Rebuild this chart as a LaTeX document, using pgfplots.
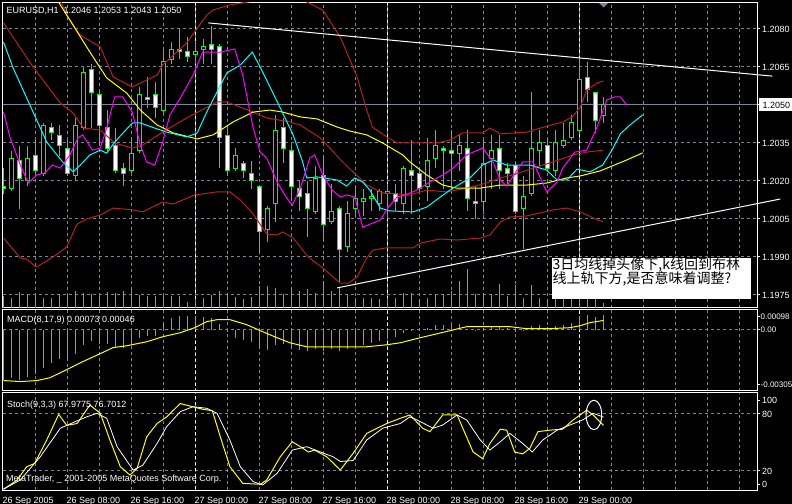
\documentclass[border=0pt]{standalone}
\usepackage{pgfplots}
\pgfplotsset{compat=1.18}
\usepackage{pgfplotstable}
\usepackage{fontspec}
\setmainfont{Liberation Sans}
\newfontfamily\cjk{Noto Sans CJK SC}
\definecolor{mtgrid}{RGB}{119,136,153}
\definecolor{mtred}{RGB}{178,34,34}
\definecolor{mtgreen}{RGB}{0,255,0}
\definecolor{mthist}{RGB}{150,150,150}
\definecolor{mtmag}{RGB}{255,0,255}
\definecolor{mtcyan}{RGB}{0,255,255}
\definecolor{mtyel}{RGB}{255,255,0}
\newcommand{\mtf}{\fontsize{9bp}{10bp}\selectfont}

% hourly EURUSD bars, k = hours since 26 Sep 2005 00:00
\pgfplotstableread{
k O H L C
0 1.2018 1.2025 1.2015 1.2017
1 1.2017 1.2032 1.2016 1.2029
2 1.2028 1.2034 1.2009 1.2021
3 1.2020 1.2034 1.2018 1.2029
4 1.2030 1.2036 1.2023 1.2024
5 1.2023 1.2043 1.2022 1.2042
6 1.2041 1.2043 1.2036 1.2039
7 1.2038 1.2042 1.2030 1.2034
8 1.2033 1.2036 1.2022 1.2023
9 1.2022 1.2045 1.2020 1.2042
10 1.2041 1.2065 1.2040 1.2063
11 1.2064 1.2066 1.2041 1.2055
12 1.2054 1.2056 1.2034 1.2042
13 1.2041 1.2048 1.2032 1.2033
14 1.2034 1.2041 1.2023 1.2024
15 1.2025 1.2027 1.2018 1.2023
16 1.2024 1.2037 1.2023 1.2031
17 1.2032 1.2057 1.2031 1.2054
18 1.2053 1.2061 1.2049 1.2052
19 1.2054 1.2059 1.2045 1.2049
20 1.2048 1.2072 1.2047 1.2067
21 1.2068 1.2075 1.2066 1.2072
22 1.2072 1.2080 1.2068 1.2071
23 1.2071 1.2077 1.2067 1.2069
24 1.2070 1.2075 1.2066 1.2071
25 1.2072 1.2076 1.2066 1.2073
26 1.2074 1.2081 1.2066 1.2072
27 1.2073 1.2074 1.2025 1.2037
28 1.2038 1.2041 1.2022 1.2024
29 1.2025 1.2033 1.2024 1.2030
30 1.2027 1.2028 1.2021 1.2024
31 1.2023 1.2028 1.2017 1.2020
32 1.2018 1.2018 1.1991 1.2000
33 1.2001 1.2010 1.1996 1.2009
34 1.2011 1.2046 1.2004 1.2040
35 1.2041 1.2045 1.2027 1.2033
36 1.2032 1.2034 1.2012 1.2018
37 1.2017 1.2020 1.2008 1.2014
38 1.2015 1.2020 1.1998 1.2009
39 1.2008 1.2026 1.2007 1.2021
40 1.2022 1.2030 1.1997 1.2003
41 1.2004 1.2019 1.2003 1.2008
42 1.2009 1.2010 1.1980 1.1993
43 1.1994 1.2012 1.1992 1.2007
44 1.2009 1.2018 1.2006 1.2013
45 1.2012 1.2017 1.2006 1.2013
46 1.2013 1.2017 1.2008 1.2014
47 1.2011 1.2017 1.2008 1.2016
48 1.2015 1.2019 1.2005 1.2016
49 1.2015 1.2019 1.2008 1.2012
50 1.2011 1.2026 1.2007 1.2025
51 1.2024 1.2036 1.2007 1.2022
52 1.2023 1.2025 1.2016 1.2017
53 1.2018 1.2037 1.2012 1.2028
54 1.2029 1.2040 1.2025 1.2034
55 1.2033 1.2034 1.2017 1.2032
56 1.2032 1.2040 1.2017 1.2031
57 1.2031 1.2038 1.2024 1.2034
58 1.2033 1.2040 1.2008 1.2013
59 1.2012 1.2018 1.2005 1.2011
60 1.2012 1.2036 1.2007 1.2027
61 1.2029 1.2038 1.2017 1.2032
62 1.2033 1.2038 1.2017 1.2024
63 1.2025 1.2027 1.2018 1.2023
64 1.2026 1.2027 1.2007 1.2008
65 1.2009 1.2022 1.1993 1.2014
66 1.2015 1.2055 1.2014 1.2033
67 1.2032 1.2040 1.2026 1.2035
68 1.2034 1.2037 1.2024 1.2025
69 1.2024 1.2040 1.2022 1.2035
70 1.2034 1.2043 1.2033 1.2036
71 1.2037 1.2046 1.2036 1.2043
72 1.2040 1.2069 1.2039 1.2060
73 1.2061 1.2067 1.2051 1.2056
74 1.2055 1.2055 1.2039 1.2044
75 1.2046 1.2053 1.2043 1.2050
}\candles

\pgfplotstableread{
k v
0 12
1 10
2 16
3 14
4 12
5 10
6 10
7 14
8 13
9 17
10 15
11 14
12 12
13 16
14 15
15 17
16 19
17 13
18 12
19 12
20 12
21 12
22 12
23 6
24 6
25 10
26 13
27 17
28 14
29 11
30 9
31 11
32 22
33 22
34 20
35 14
36 20
37 17
38 19
39 15
40 27
41 17
42 20
43 14
44 10
45 10
46 10
47 9
48 10
49 10
50 15
51 15
52 9
53 10
54 14
55 14
56 17
57 27
58 39
59 14
60 15
61 14
62 24
63 12
64 23
65 10
66 23
67 10
68 9
69 14
70 12
71 15
72 20
73 16
74 12
75 5
}\volumes

\pgfplotstableread{
k m
0 -0.00249
1 -0.00239
2 -0.00249
3 -0.00234
4 -0.00219
5 -0.00189
6 -0.00164
7 -0.00144
8 -0.00149
9 -0.00119
10 -0.00075
11 -0.00055
12 -0.00070
13 -0.00070
14 -0.00085
15 -0.00089
16 -0.00075
17 -0.00040
18 -0.00030
19 -0.00030
20 0.00040
21 0.00060
22 0.00070
23 0.00070
24 0.00070
25 0.00065
26 0.00060
27 0.00030
28 -0.00010
29 -0.00040
30 -0.00050
31 -0.00060
32 -0.00089
33 -0.00099
34 -0.00075
35 -0.00070
36 -0.00089
37 -0.00099
38 -0.00104
39 -0.00094
40 -0.00104
41 -0.00094
42 -0.00104
43 -0.00094
44 -0.00085
45 -0.00075
46 -0.00065
47 -0.00055
48 -0.00045
49 -0.00035
50 -0.00015
51 -0.00005
52 -0.00005
53 0.00010
54 0.00025
55 0.00025
56 0.00025
57 0.00030
58 0.00005
59 -0.00005
60 0.00010
61 0.00020
62 0.00015
63 0.00010
64 -0.00010
65 -0.00005
66 0.00020
67 0.00025
68 0.00015
69 0.00020
70 0.00025
71 0.00035
72 0.00070
73 0.00075
74 0.00065
75 0.00073
}\macd

\pgfplotsset{
  panel/.style={scale only axis, width=754.5bp, xmin=-0.125, xmax=94.1875,
    axis line style={white, line width=1bp},
    scaled y ticks=false, scaled x ticks=false,
    xtick={4,8,...,92}, xticklabels={}, xtick style={draw=none},
    xmajorgrids, major grid style={mtgrid, line width=1bp, dash pattern=on 3bp off 3bp},
    ytick pos=right, yticklabel pos=right, ytick align=outside, major tick length=3bp,
    ytick style={white, line width=1bp},
    yticklabel style={font=\mtf, text=white, anchor=west, inner sep=0pt, xshift=2bp}},
  over/.style={scale only axis, width=754.5bp, xmin=-0.125, xmax=94.1875, hide axis,
    scaled y ticks=false, scaled x ticks=false},
  mainpos/.style={at={(2.5bp,196bp)}, anchor=south west, height=305bp,
    ymin=1.1969868, ymax=1.2090263},
  sep/.style={white, line width=1bp, dash pattern=on 3bp off 3bp, forget plot},
}

\begin{document}
\begin{tikzpicture}
\useasboundingbox (0,0) rectangle (792bp,504bp);
\fill[black] (0,0) rectangle (792bp,504bp);
\clip (0,0) rectangle (792bp,504bp);

% price panel: frame, grid, bid line, wicks
\begin{axis}[panel, mainpos,
  ytick={1.1975,1.1990,1.2005,1.2020,1.2035,1.2050,1.2065,1.2080},
  yticklabels={1.1975,1.1990,1.2005,1.2020,1.2035,{},1.2065,1.2080},
  ymajorgrids]
\addplot[mtgrid, line width=1bp, forget plot] coordinates {(-0.125,1.2050) (94.1875,1.2050)};
\addplot[sep] coordinates {(24,1.19) (24,1.21)};
\addplot[sep] coordinates {(48,1.19) (48,1.21)};
\addplot[sep] coordinates {(72,1.19) (72,1.21)};
\addplot[mtgreen, only marks, mark size=0pt, mark options={draw=none, fill=none},
  error bars/.cd, y dir=plus, y explicit, error mark=none,
  error bar style={line width=1.1bp, solid, mtgreen}]
  table[x=k, y=L, y error expr=\thisrow{H}-\thisrow{L}] {\candles};
\end{axis}

% volumes
\begin{axis}[over, at={(2.5bp,196bp)}, anchor=south west, height=305bp, ymin=0, ymax=305]
\addplot[ycomb, mtgreen, line width=1.1bp, mark=none] table[x=k, y=v] {\volumes};
\end{axis}

% candle bodies (base 1.19)
\begin{axis}[over, at={(2.5bp,196bp)}, anchor=south west, height=305bp,
  ymin=0.0069868, ymax=0.0190263, ybar stacked, bar width=4bp]
\addplot[draw=none, fill=none] table[x=k, y expr={min(\thisrow{O},\thisrow{C})-1.19}] {\candles};
\addplot[draw=mtgreen, fill=black, line width=1bp] table[x=k, y expr={max(\thisrow{C}-\thisrow{O},0)}] {\candles};
\addplot[draw=mtgreen, fill=white, line width=1bp] table[x=k, y expr={max(\thisrow{O}-\thisrow{C},0)}] {\candles};
\end{axis}

% indicators
\begin{axis}[over, mainpos]
\addplot[mtred, line width=1bp] coordinates {(0,1.2107) (3.9,1.2099) (7.1,1.20914) (7.9,1.20855) (9.6,1.20776) (12.1,1.20729) (13.7,1.20611) (16.1,1.20571) (19.2,1.20618) (19.9,1.20658) (22.9,1.20745) (25.4,1.20855) (26.2,1.20875) (28.3,1.20895) (32.1,1.20915) (34.6,1.2095) (37.4,1.20915) (39.9,1.20875) (42.1,1.20768) (44.2,1.20611) (45.4,1.2048) (46.1,1.20413) (47.9,1.20374) (49.2,1.2035) (54.2,1.2035) (55.8,1.20362) (57.4,1.2039) (59.9,1.2039) (60.8,1.20409) (62.1,1.20386) (65.4,1.20393) (67.1,1.20409) (69.9,1.20433) (71.1,1.20453) (72.1,1.20492) (72.9,1.20559) (74.2,1.20587) (75,1.20595)};
\addplot[mtred, line width=1bp] coordinates {(0,1.20824) (3.7,1.2065) (7.1,1.20508) (8.7,1.20468) (10,1.20409) (12.1,1.20401) (13.9,1.2035) (16.1,1.2033) (17.4,1.20342) (19.9,1.20393) (22.9,1.20449) (26.7,1.20512) (27.9,1.20512) (31.2,1.20472) (32.9,1.20449) (35.8,1.20433) (37.1,1.20421) (39.6,1.2037) (42.4,1.20275) (45.4,1.20184) (47.4,1.20153) (50.8,1.20145) (52.9,1.20164) (55.4,1.20157) (57.9,1.20172) (60.4,1.20192) (62.1,1.20212) (63.7,1.20224) (66.2,1.20251) (68.7,1.20275) (71.2,1.20303) (72.9,1.20314) (75,1.20322)};
\addplot[mtred, line width=1bp] coordinates {(0,1.19975) (2.1,1.19896) (2.9,1.19892) (4.1,1.1986) (6.2,1.199) (7.9,1.1994) (9.2,1.2003) (10.4,1.2005) (12.1,1.20066) (13.7,1.20093) (16.2,1.20086) (17.4,1.20078) (19.9,1.20117) (21.2,1.20109) (23.9,1.20145) (26.7,1.20157) (28.3,1.20157) (29.6,1.20125) (31.2,1.2007) (32.9,1.19991) (34.2,1.19987) (34.9,1.19999) (36.2,1.19975) (38.1,1.199) (39.9,1.19857) (42.1,1.19797) (43.1,1.19797) (44.2,1.19821) (45.4,1.19896) (46.2,1.19928) (47.9,1.19936) (51.2,1.19936) (52.1,1.19955) (54.6,1.19971) (56.7,1.19967) (59.6,1.19975) (60.8,1.19987) (62.1,1.20038) (63.3,1.20058) (65.4,1.20062) (68.7,1.20086) (70.4,1.20093) (72.1,1.20078) (73.7,1.20054) (75,1.20038)};
\addplot[mtyel, line width=1bp] coordinates {(0,1.2125) (7.9,1.20855) (10.8,1.20709) (12.9,1.20607) (15.4,1.20547) (17.1,1.2048) (19.2,1.20421) (21.2,1.2039) (24.2,1.20366) (26.2,1.20382) (28.7,1.20433) (31.2,1.20472) (33.3,1.2048) (34.9,1.20472) (37.1,1.20453) (39.2,1.20445) (41.7,1.20413) (43.3,1.20397) (45.4,1.20382) (47.4,1.2035) (49.9,1.20303) (50.8,1.20275) (52.9,1.20224) (54.9,1.20184) (56.6,1.20172) (59.6,1.20172) (62.1,1.20184) (65.4,1.20184) (67.9,1.20192) (70.4,1.20212) (72.1,1.2022) (74.6,1.2024) (77.9,1.20283) (79.9,1.20311)};
\addplot[mtcyan, line width=1bp] coordinates {(0,1.20749) (1.2,1.20646) (3.7,1.20472) (5.4,1.20354) (7.4,1.20275) (8.7,1.20236) (9.6,1.20263) (10.8,1.20303) (12.1,1.20322) (12.9,1.2031) (13.9,1.20354) (16.1,1.20429) (17.1,1.20429) (18.9,1.20409) (20.4,1.20393) (22.9,1.20374) (24.2,1.20389) (25.4,1.20472) (27.9,1.20626) (29.6,1.20658) (31.1,1.20709) (32.4,1.2063) (34.6,1.20488) (36.2,1.20382) (37.4,1.20275) (37.9,1.20212) (39.2,1.20216) (41.7,1.20204) (42.9,1.2018) (43.9,1.20212) (44.9,1.20196) (45.8,1.20164) (47.1,1.20093) (48.3,1.20082) (51.2,1.20078) (52.9,1.20097) (54.6,1.20137) (55.8,1.20164) (58.3,1.20212) (59.9,1.20263) (61.2,1.20283) (62.9,1.20263) (65.8,1.20263) (67.9,1.20243) (69.2,1.20204) (70.4,1.20204) (71.7,1.20247) (73.3,1.20236) (74.9,1.20263) (76.2,1.2033) (77.1,1.20386) (78.3,1.20421) (79.9,1.20461)};
\addplot[mtmag, line width=1bp] coordinates {(0,1.20472) (0.8,1.20374) (2.1,1.20263) (3.1,1.20192) (4.2,1.20224) (5.2,1.20232) (6.1,1.20263) (7.1,1.20251) (8.3,1.20303) (9.3,1.2037) (9.9,1.20382) (11.1,1.20322) (12.1,1.2033) (12.9,1.20409) (13.9,1.20532) (14.9,1.20532) (16.1,1.20472) (17.1,1.20342) (17.9,1.20275) (18.9,1.20263) (19.9,1.20354) (20.8,1.20461) (22.1,1.20528) (23.7,1.20618) (24.9,1.20709) (27.1,1.20709) (28.9,1.20721) (29.9,1.20618) (31.2,1.20409) (32.1,1.20314) (32.9,1.20291) (34.2,1.20196) (35.4,1.20133) (36.1,1.20105) (37.1,1.20172) (38.3,1.20291) (38.9,1.20303) (39.9,1.20224) (41.1,1.20164) (42.1,1.20137) (42.9,1.20145) (43.9,1.20137) (44.9,1.20018) (47.1,1.20046) (48.1,1.20097) (49.2,1.20137) (50.2,1.20145) (51.4,1.2016) (53.3,1.20196) (54.9,1.20224) (56.2,1.20251) (57.9,1.20303) (59.9,1.2033) (61.2,1.20275) (62.1,1.20204) (62.9,1.2018) (64.2,1.20243) (64.9,1.20275) (66.2,1.20275) (67.9,1.20157) (69.2,1.20196) (69.9,1.20251) (71.4,1.20314) (72.9,1.20322) (74.2,1.20413) (75.4,1.2052) (76.4,1.20532) (77.1,1.20532) (77.9,1.2050)};
\end{axis}

% trend lines
\begin{axis}[over, mainpos, clip=false]
\addplot[white, line width=1bp] coordinates {(25.6,1.20824) (96.1,1.20614)};
\addplot[white, line width=1bp] coordinates {(41.7,1.19778) (97.1,1.20129)};
\end{axis}

% MACD panel
\begin{axis}[panel, at={(2.5bp,113bp)}, anchor=south west, height=81bp,
  ymin=-0.00305, ymax=0.00098,
  ytick={0.000647,0,-0.002736}, yticklabels={0.00098,0.00,-0.00305},
  yticklabel style={xshift=-1.5bp, font=\fontsize{8bp}{9bp}\selectfont}]
\addplot[mtgrid, line width=1bp, dash pattern=on 3bp off 3bp, forget plot] coordinates {(-0.125,0) (94.1875,0)};
\addplot[sep] coordinates {(24,-0.004) (24,0.002)};
\addplot[sep] coordinates {(48,-0.004) (48,0.002)};
\addplot[sep] coordinates {(72,-0.004) (72,0.002)};
\addplot[ycomb, mthist, line width=1bp, mark=none] table[x=k, y=m] {\macd};
\addplot[mtyel, line width=1bp] coordinates {(0,-0.00253) (2.1,-0.00258) (4.2,-0.00253) (5.8,-0.00239) (7.9,-0.00199) (9.9,-0.00159) (12.1,-0.00119) (13.7,-0.00089) (15.4,-0.0008) (17.9,-0.0006) (19.9,-0.00035) (22.1,-0.00015) (23.9,0.0001) (25.4,0.0004) (26.7,0.0005) (28.3,0.0005) (30.4,0.00025) (32.4,-0.0001) (34.2,-0.0004) (35.8,-0.00065) (37.9,-0.00085) (41.2,-0.00085) (45.4,-0.00085) (47.9,-0.00075) (49.6,-0.00065) (52.1,-0.0004) (55.8,-0.00005) (57.9,0.00015) (60.4,0.00015) (63.3,0.00015) (65.4,0.00005) (68.3,0.00005) (70.8,0.0001) (72.1,0.0002) (73.3,0.00035) (75,0.00046)};
\end{axis}

% Stochastic panel
\begin{axis}[panel, at={(2.5bp,14bp)}, anchor=south west, height=97bp,
  ymin=0, ymax=102.1,
  ytick={20,80}, yticklabels={20,80}, ymajorgrids,
  extra y ticks={6.3,94.7}, extra y tick labels={0,100}, extra y tick style={grid=none},
  extra x ticks={0,8,...,72},
  extra x tick labels={26 Sep 2005,26 Sep 08:00,26 Sep 16:00,27 Sep 00:00,27 Sep 08:00,27 Sep 16:00,28 Sep 00:00,28 Sep 08:00,28 Sep 16:00,29 Sep 00:00},
  extra x tick style={grid=none, xtick style={draw=none},
    xticklabel style={anchor=base west, inner sep=0pt, font=\mtf, text=white, yshift=-13bp, xshift=-1bp}}]
\addplot[sep] coordinates {(24,-5) (24,110)};
\addplot[sep] coordinates {(48,-5) (48,110)};
\addplot[sep] coordinates {(72,-5) (72,110)};
\addplot[mtyel, line width=1bp] coordinates {(0,0.7) (1.7,10.5) (2.9,24.5) (3.9,28) (5.4,52.6) (6.9,79.6) (7.9,68) (9.2,70) (10.8,89.5) (12.1,80.7) (13.3,52.6) (14.6,24.5) (15.8,15.8) (16.7,22.8) (17.9,56) (19.2,70) (20.4,77) (22.1,91) (23.6,87.7) (24.9,85) (26.1,83.5) (27.1,56) (28.3,24.5) (29.9,7) (32.1,6) (32.9,10.5) (34.6,35) (36.1,50.8) (37.1,45.6) (38.1,40) (38.9,42) (40.4,35) (42.1,21) (43.7,38.6) (45.4,59.6) (47.9,70) (49.6,75.5) (50.8,79) (52.4,65) (53.3,61.4) (54.9,79) (56.7,79) (58.7,40) (59.9,33) (60.8,49) (62.1,64) (62.9,63) (63.9,40) (64.9,38) (65.8,44) (66.8,61.4) (68.3,63) (69.9,64) (71.2,73.7) (72.9,84) (73.7,79) (75,68)};
\addplot[white, line width=0.8bp] coordinates {(0,1) (2.1,10.5) (4.6,35) (7.1,65) (8.7,71) (10.4,77) (11.7,80.7) (12.9,75.5) (14.2,45.6) (16.2,21) (17.4,26) (19.2,49) (20.4,66.7) (22.1,82.5) (23.7,87.7) (25.4,86) (26.7,80.7) (28.3,52.6) (29.6,24.5) (31.2,8.8) (32.4,5.3) (34.2,17.5) (36.1,42) (37.9,45.6) (39.6,40) (41.2,35) (42.1,30) (43.7,31) (45.4,52.6) (47.4,65) (49.6,70) (50.8,77) (51.7,73.7) (53.7,65) (54.9,68.4) (56.7,79) (57.9,73.7) (59.6,52.6) (60.8,42) (62.1,50.8) (63.3,59.6) (64.9,49) (66.1,40) (67.4,52.6) (69.2,63) (70.8,68.4) (72.4,73.7) (73.7,80.7) (75,76.7)};
\draw[white, line width=1bp] (axis cs:73.8,79) ellipse [x radius=7.8bp, y radius=14.7bp];
\end{axis}

% texts
\node[anchor=base west, inner sep=0pt, text=white, font=\mtf] at (6.5bp,490bp) {EURUSD,H1\ \ 1.2046 1.2053 1.2043 1.2050};
\node[anchor=base west, inner sep=0pt, text=white, font=\mtf] at (7bp,181.3bp) {MACD(8,17,9) 0.00073 0.00046};
\node[anchor=base west, inner sep=0pt, text=white, font=\mtf] at (7bp,96.3bp) {Stoch(9,3,3) 67.9775 76.7012};
\node[anchor=base west, inner sep=0pt, text=white, font=\mtf] at (6bp,22.3bp) {MetaTrader, \_ 2001-2005 MetaQuotes Software Corp.};
\fill[white] (759bp,393bp) rectangle (792bp,406bp);
\node[anchor=base west, inner sep=0pt, text=black, font=\mtf] at (762.3bp,395.5bp) {1.2050};
\fill[mtgrid] (599bp,501bp) -- (608bp,501bp) -- (603.5bp,496.5bp) -- cycle;
\fill[white] (551.7bp,204.7bp) rectangle (750.7bp,245.7bp);
\node[anchor=base west, inner sep=0pt, text=black, font=\cjk\fontsize{14bp}{14bp}\selectfont] at (552.5bp,234.5bp) {3日均线掉头像下,k线回到布林};
\node[anchor=base west, inner sep=0pt, text=black, font=\cjk\fontsize{14bp}{14bp}\selectfont] at (552.5bp,220.5bp) {线上轨下方,是否意味着调整?};
\end{tikzpicture}
\end{document}
